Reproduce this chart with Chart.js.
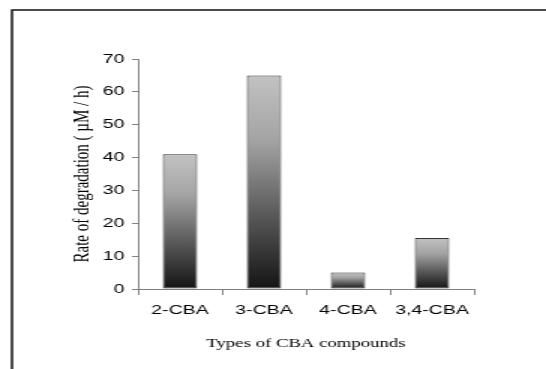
<!DOCTYPE html>
<html>
<head>
<meta charset="utf-8">
<script src="https://cdn.jsdelivr.net/npm/chart.js@4.4.1/dist/chart.umd.min.js"></script>
<style>
  html, body { margin:0; padding:0; background:#fff; overflow:hidden; }
  /* the source picture is stretched sideways ~1.5x, so draw narrow and widen */
  #wrap { width:364px; height:369px; transform:scaleX(1.5); transform-origin:0 0; }
</style>
</head>
<body>
<div id="wrap"><canvas id="chart"></canvas></div>
<script>
  // data
  const compounds = ['2-CBA', '3-CBA', '4-CBA', '3,4-CBA'];
  const rates     = [41, 65, 5, 15.5];
  const yTicks    = [0, 10, 20, 30, 40, 50, 60, 70];

  const sans  = "'Liberation Sans', Arial, sans-serif";
  const serif = "'Liberation Serif', 'Times New Roman', serif";

  // vertical grey ramp per bar, dark at the base, light at the top
  function barFill(ctx){
    const chart = ctx.chart;
    const y = chart.scales.y;
    if (!chart.chartArea || !y || ctx.type !== 'data') return '#888';
    const v = ctx.raw || 0;
    const y0 = y.getPixelForValue(0), y1 = y.getPixelForValue(v);
    if (!isFinite(y0) || !isFinite(y1) || y0 === y1) return '#888';
    const g = chart.ctx.createLinearGradient(0, y0, 0, y1);
    g.addColorStop(0, '#141414');
    g.addColorStop(0.35, '#5a5a5a');
    g.addColorStop(0.7, '#a4a4a4');
    g.addColorStop(1, '#c2c2c2');
    return g;
  }

  // outer frame (top and left edges visible in the crop)
  const framePlugin = {
    id: 'frame',
    afterDraw(chart){
      const c = chart.ctx;
      c.save();
      c.strokeStyle = '#111';
      c.lineWidth = 1.5;
      c.beginPath();
      c.moveTo(8, 369);
      c.lineTo(8, 10);
      c.lineTo(364, 10);
      c.stroke();
      c.restore();
    }
  };

  new Chart(document.getElementById('chart'), {
    type: 'bar',
    data: {
      labels: compounds,
      datasets: [{
        data: rates,
        backgroundColor: barFill,
        borderColor: '#333',
        borderWidth: 1,
        borderSkipped: false,
        categoryPercentage: 1,
        barPercentage: 0.41
      }]
    },
    options: {
      responsive: true,
      maintainAspectRatio: false,
      animation: false,
      layout: { padding: { left: 0, top: 59, right: 48, bottom: 0 } },
      plugins: { legend: { display: false }, tooltip: { enabled: false } },
      scales: {
        x: {
          grid: { drawOnChartArea: false, drawTicks: true, tickLength: 6, color: '#808080' },
          border: { color: '#808080', width: 1 },
          ticks: { color: '#000', font: { family: sans, size: 13 }, padding: 8, maxRotation: 0 },
          title: {
            display: true, text: 'Types of CBA compounds', color: '#000',
            font: { family: serif, size: 12.5 }, padding: { top: 0, bottom: 18 }
          },
          afterFit: s => { s.height = 80; }
        },
        y: {
          min: 0, max: 70,
          afterBuildTicks: s => { s.ticks = yTicks.map(v => ({ value: v })); },
          grid: { drawOnChartArea: false, drawTicks: true, tickLength: 4, color: '#808080' },
          border: { color: '#808080', width: 1 },
          ticks: { color: '#000', font: { family: sans, size: 13 }, padding: 5 },
          title: {
            display: true, text: 'Rate of degradation ( \u00b5M / h)', color: '#000',
            font: { family: serif, size: 15 }, padding: { top: 46, bottom: 0 }
          },
          afterFit: s => { s.width = 92; }
        }
      }
    },
    plugins: [framePlugin]
  });
</script>
</body>
</html>
